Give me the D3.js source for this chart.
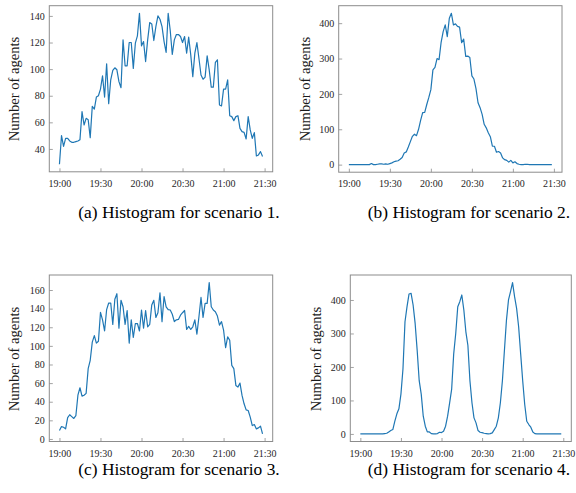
<!DOCTYPE html>
<html>
<head>
<meta charset="utf-8">
<script src="https://cdn.jsdelivr.net/npm/d3@7"></script>
<style>
  body { margin: 0; background: #fff; }
  svg { display: block; }
  svg text { font-family: "Liberation Serif", "Times New Roman", "DejaVu Serif", serif; }
</style>
</head>
<body>
<div id="chart-area"></div>
<script>
/*
*    four scenario histograms (agents per 1.5 min bin)
*/

var binMinutes = 1.5;

// x ticks (minutes after 19:00)
var tickMinutes = [0, 30, 60, 90, 120, 150];
var tickLabels = ["19:00", "19:30", "20:00", "20:30", "21:00", "21:30"];

// y ticks per panel
var yTicksA = [40, 60, 80, 100, 120, 140];
var yTicksB = [0, 100, 200, 300, 400];
var yTicksC = [0, 20, 40, 60, 80, 100, 120, 140, 160];
var yTicksD = [0, 100, 200, 300, 400];

var captions = ["(a) Histogram for scenario 1.", "(b) Histogram for scenario 2.",
    "(c) Histogram for scenario 3.", "(d) Histogram for scenario 4."];

// series values, one per bin
var scenario1 = [28.5, 50, 42, 48, 48, 46, 45, 45, 45.5, 46,
    47, 68, 58, 63, 62, 48.5, 72, 70, 79, 80,
    85, 95, 79, 104, 74, 92, 99, 101, 99.5, 90.6,
    86, 122, 102.5, 102.5, 120, 120, 100.6, 119.5, 125, 142,
    117.5, 120.7, 105.7, 122, 135, 134, 121.5, 132, 140, 137.5,
    132, 120.7, 112.5, 142, 129, 111, 122, 126, 126, 124.5,
    120, 124.5, 112, 124, 110.7, 94.4, 112, 120, 108, 95.6,
    92.4, 94, 110, 99.4, 86.4, 86.4, 105, 107, 73, 72.3,
    85, 85, 92, 65, 64.3, 61.3, 64.3, 65, 55.5, 53,
    52.5, 47.5, 64.3, 54.3, 48, 52.3, 34.7, 35.5, 38, 34.3];

var scenario2 = [0, 0, 0, 0, 0, 0, 0, 0, 0, 0,
    0, 3, 0, 0, 1, 2, 2, 1, 2, 1,
    3, 5, 8, 10, 11, 15, 20, 33, 36, 50,
    65, 80, 86, 82, 100, 125, 147, 148, 170, 190,
    212, 268, 275, 300, 297, 346, 376, 395, 362, 414,
    428, 395, 398, 391, 389, 345, 355, 306, 307, 303,
    251, 242, 215, 175, 161, 142, 114, 104, 90, 79,
    52, 52, 35, 37, 33, 19, 14, 12, 7, 12,
    5, 8, 3, 1, 0, 0, 1, 1, 0, 0,
    0, 0, 0, 0, 0, 0, 0, 0, 0, 0];

var scenario3 = [9, 13.3, 12.6, 10.8, 23, 26, 24, 22, 25, 47,
    55, 46, 47, 49, 75.5, 84.5, 104, 111, 103, 105,
    136, 128, 116, 139, 146, 146, 123, 150, 156, 119,
    149, 142, 123, 138, 103, 128, 109, 124, 124, 116,
    138.5, 119, 138, 120.5, 123, 144, 149, 130.6, 135.6, 157,
    126, 153, 142, 139, 138.5, 134, 126, 128, 128.4, 133,
    135.6, 138, 117.6, 121, 117.6, 120.5, 128, 112.6, 131.3, 152,
    130.6, 145.7, 145.7, 168, 142, 138.5, 136.7, 132, 122.3, 126,
    117, 98, 109.7, 106, 79, 75.5, 57.5, 55.8, 60, 46.8,
    37.8, 31.3, 30.6, 23.4, 14.4, 15.5, 10.8, 11.9, 13.7, 5.4];

var scenario4 = [0, 0, 0, 0, 0, 0, 0, 0, 0, 0,
    0, 0, 1, 2, 6, 10, 13, 38, 60, 75,
    119, 194, 335, 380, 418, 420, 385, 330, 250, 159,
    119, 53, 23, 6, 6, 1, 0, 0, 1, 5,
    4, 8, 23, 53, 93, 134, 239, 300, 380, 395,
    415, 370, 305, 264, 159, 93, 48, 33, 10, 5,
    4, 2, 1, 0, 1, 3, 13, 23, 48, 93,
    159, 250, 340, 400, 425, 452, 410, 375, 320, 239,
    159, 88, 38, 28, 20, 6, 1, 0, 0, 0,
    0, 0, 0, 0, 0, 0, 0, 0, 0, 0];

// layout of the four plot frames
var panels = [
    { values: scenario1, yTicks: yTicksA, left: 49.3, top: 5.7, right: 272.7, bottom: 171.8,
      labelX: 14, labelY: 89, capX: 179, capY: 217.5 },
    { values: scenario2, yTicks: yTicksB, left: 338.7, top: 5.7, right: 562, bottom: 172.2,
      labelX: 305, labelY: 89, capX: 469, capY: 217.5 },
    { values: scenario3, yTicks: yTicksC, left: 49.3, top: 275, right: 272.7, bottom: 441.5,
      labelX: 14, labelY: 359, capX: 179, capY: 475 },
    { values: scenario4, yTicks: yTicksD, left: 350.3, top: 275, right: 571.3, bottom: 441.5,
      labelX: 316, labelY: 359, capX: 469, capY: 475 }
];

var width = 576, height = 493;
var svg = d3.select("#chart-area").append("svg")
    .attr("width", width)
    .attr("height", height);

var serif = "Liberation Serif, Times New Roman, DejaVu Serif, serif";

function padded(ext) {
    var m = (ext[1] - ext[0]) * 0.05;
    return [ext[0] - m, ext[1] + m];
}

panels.forEach(function(p, k) {
    var data = p.values.map(function(v, i) { return { t: i * binMinutes, v: v }; });

    var x = d3.scaleLinear()
        .domain(padded(d3.extent(data, function(d) { return d.t; })))
        .range([p.left, p.right]);
    var y = d3.scaleLinear()
        .domain(padded(d3.extent(data, function(d) { return d.v; })))
        .range([p.bottom, p.top]);

    var g = svg.append("g");

    // x-axis
    var xAxisCall = d3.axisBottom(x)
        .tickValues(tickMinutes)
        .tickFormat(function(d, i) { return tickLabels[i]; })
        .tickSizeInner(-3.5)
        .tickSizeOuter(0)
        .tickPadding(8);
    var xAxis = g.append("g")
        .attr("transform", "translate(0," + p.bottom + ")")
        .call(xAxisCall);

    // y-axis
    var yAxisCall = d3.axisLeft(y)
        .tickValues(p.yTicks)
        .tickSizeInner(-3.5)
        .tickSizeOuter(0)
        .tickPadding(4.5);
    var yAxis = g.append("g")
        .attr("transform", "translate(" + p.left + ",0)")
        .call(yAxisCall);

    [xAxis, yAxis].forEach(function(ax) {
        ax.attr("font-family", null).attr("font-size", null);
        ax.select(".domain").remove();
        ax.selectAll(".tick line").attr("stroke", "#8c8c8c").attr("stroke-width", 0.8);
        ax.selectAll(".tick text")
            .style("font-family", serif)
            .style("font-size", "10px")
            .attr("fill", "#262626");
    });

    // frame
    g.append("rect")
        .attr("x", p.left)
        .attr("y", p.top)
        .attr("width", p.right - p.left)
        .attr("height", p.bottom - p.top)
        .attr("fill", "none")
        .attr("stroke", "#8c8c8c")
        .attr("stroke-width", 1);

    // line
    var line = d3.line()
        .x(function(d) { return x(d.t); })
        .y(function(d) { return y(d.v); });
    g.append("path")
        .attr("d", line(data))
        .attr("fill", "none")
        .attr("stroke", "#1f77b4")
        .attr("stroke-width", 1.2)
        .attr("stroke-linejoin", "round");

    // y label
    g.append("text")
        .attr("transform", "translate(" + p.labelX + "," + p.labelY + ") rotate(-90)")
        .attr("text-anchor", "middle")
        .attr("dominant-baseline", "central")
        .style("font-family", serif)
        .style("font-size", "14.6px")
        .attr("fill", "#1a1a1a")
        .text("Number of agents");

    // caption
    svg.append("text")
        .attr("x", p.capX)
        .attr("y", p.capY)
        .attr("text-anchor", "middle")
        .style("font-family", serif)
        .style("font-size", "17.4px")
        .attr("fill", "#000")
        .text(captions[k]);
});
</script>
</body>
</html>
